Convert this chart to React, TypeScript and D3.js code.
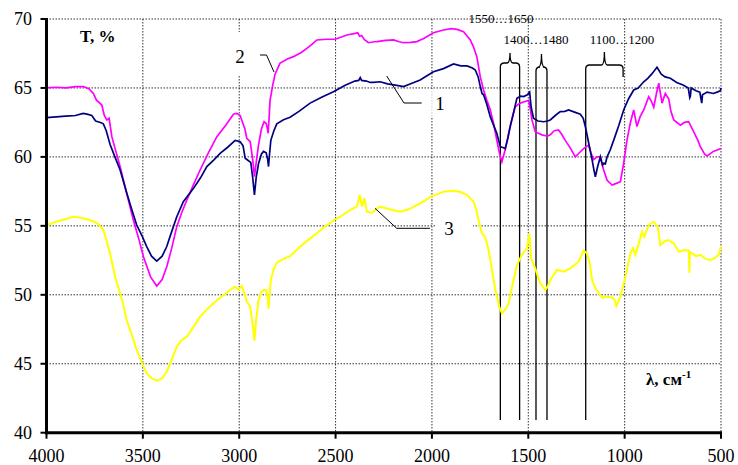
import { useEffect } from "react";
import * as d3 from "d3";

// wavenumber (cm-1), transmittance (%)
const curve1: [number, number][] = [
  [4000, 62.85], [3950, 62.9], [3900, 62.95], [3850, 63.0], [3810, 63.15], [3790, 63.1], [3765, 63.0],
  [3745, 62.6], [3720, 62.5], [3705, 62.4], [3690, 61.9], [3670, 60.9], [3645, 60.0], [3618, 59.05],
  [3584, 57.4], [3560, 56.3], [3532, 55.06], [3505, 54.3], [3480, 53.5], [3455, 52.8], [3428, 52.45],
  [3400, 52.8], [3376, 53.5], [3350, 54.6], [3324, 55.66], [3290, 56.75], [3238, 57.7], [3200, 58.5],
  [3168, 59.3], [3130, 59.8], [3099, 60.26], [3060, 60.7], [3021, 61.2], [2995, 61.1], [2980, 60.8],
  [2969, 59.9], [2950, 59.7], [2940, 59.6], [2930, 58.5], [2921, 57.24], [2912, 58.5], [2900, 59.5],
  [2885, 60.2], [2874, 60.4], [2860, 60.3], [2852, 59.8], [2848, 59.3], [2842, 60.3], [2836, 61.2],
  [2820, 61.9], [2805, 62.4], [2770, 62.7], [2736, 62.87], [2690, 63.3], [2632, 63.9], [2570, 64.35],
  [2511, 64.73], [2450, 65.2], [2400, 65.5], [2380, 65.55], [2372, 65.75], [2365, 65.55], [2340, 65.5],
  [2320, 65.4], [2305, 65.4], [2269, 65.45], [2230, 65.3], [2190, 65.2], [2147, 65.1], [2110, 65.3],
  [2061, 65.58], [2030, 65.85], [1992, 66.18], [1940, 66.4], [1888, 66.74], [1850, 66.6], [1818, 66.6],
  [1790, 66.45], [1775, 66.3], [1760, 65.8], [1749, 65.1], [1740, 64.6], [1732, 64.5], [1715, 63.8],
  [1697, 62.9], [1680, 62.3], [1663, 61.7], [1650, 61.0], [1645, 60.74], [1628, 60.67], [1620, 60.6],
  [1607, 61.3], [1594, 62.2], [1575, 63.3], [1559, 64.25], [1540, 64.4], [1524, 64.37], [1505, 64.5],
  [1493, 64.7], [1485, 63.6], [1473, 62.8], [1450, 62.6], [1420, 62.55], [1400, 62.6], [1386, 62.68],
  [1360, 63.0], [1334, 63.28], [1310, 63.3], [1291, 63.4], [1260, 63.25], [1230, 63.1], [1215, 62.8],
  [1204, 62.2], [1185, 60.9], [1169, 59.8], [1160, 59.1], [1152, 58.56], [1140, 59.3], [1126, 60.0],
  [1115, 59.4], [1109, 59.54], [1100, 59.5], [1091, 60.0], [1075, 60.5], [1057, 61.2], [1030, 62.3],
  [1005, 63.4], [980, 64.2], [953, 64.85], [930, 65.0], [901, 65.45], [880, 65.7], [860, 66.0],
  [832, 66.5], [810, 66.0], [790, 65.8], [763, 65.7], [730, 65.4], [694, 65.2], [670, 65.0],
  [662, 64.3], [659, 64.4], [655, 65.0], [630, 64.8], [610, 64.7], [600, 63.9], [596, 64.5],
  [572, 64.7], [540, 64.6], [520, 64.7], [503, 64.8], [500, 65.0],
];

const curve2: [number, number][] = [
  [4000, 65.0], [3950, 65.05], [3900, 65.0], [3850, 65.1], [3809, 65.1], [3780, 64.95], [3757, 64.6],
  [3740, 64.1], [3731, 64.0], [3713, 63.76], [3700, 63.0], [3687, 62.68], [3675, 62.8], [3661, 61.47],
  [3640, 60.4], [3618, 59.3], [3584, 57.36], [3549, 55.4], [3520, 54.0], [3497, 52.76], [3460, 51.3],
  [3428, 50.64], [3400, 51.1], [3376, 52.04], [3350, 53.4], [3324, 54.94], [3300, 55.9], [3272, 56.87],
  [3240, 57.9], [3203, 59.05], [3160, 60.3], [3116, 61.47], [3070, 62.3], [3030, 63.1], [3013, 63.16],
  [2995, 63.0], [2987, 62.68], [2970, 62.0], [2961, 61.35], [2950, 61.2], [2943, 61.1], [2930, 59.8],
  [2921, 58.56], [2910, 59.8], [2900, 60.86], [2885, 62.0], [2871, 62.55], [2860, 62.43], [2853, 62.0],
  [2850, 61.71], [2845, 62.8], [2840, 64.1], [2826, 65.2], [2814, 66.0], [2788, 66.8], [2750, 67.1],
  [2719, 67.27], [2680, 67.55], [2649, 67.87], [2620, 68.2], [2597, 68.48], [2545, 68.53], [2502, 68.53],
  [2470, 68.7], [2441, 68.84], [2398, 68.96], [2385, 69.0], [2375, 68.75], [2365, 68.8], [2350, 68.5],
  [2329, 68.28], [2300, 68.35], [2286, 68.36], [2240, 68.45], [2199, 68.48], [2170, 68.35], [2147, 68.28],
  [2110, 68.3], [2078, 68.36], [2040, 68.6], [1992, 69.0], [1940, 69.2], [1900, 69.3], [1870, 69.25],
  [1836, 69.08], [1801, 68.48], [1785, 68.0], [1767, 67.27], [1749, 65.8], [1732, 64.85], [1715, 64.1],
  [1697, 63.4], [1680, 62.4], [1663, 61.2], [1650, 60.3], [1637, 59.65], [1620, 60.5], [1594, 62.2],
  [1568, 63.64], [1542, 63.9], [1520, 64.0], [1498, 64.1], [1490, 63.5], [1481, 62.68], [1464, 61.83],
  [1445, 61.7], [1429, 61.6], [1400, 61.5], [1386, 61.6], [1365, 61.9], [1343, 61.95], [1325, 61.6],
  [1308, 61.2], [1280, 60.6], [1256, 60.0], [1235, 60.3], [1213, 60.6], [1187, 60.86], [1175, 60.3],
  [1161, 59.8], [1143, 60.0], [1126, 60.0], [1110, 59.1], [1091, 58.3], [1065, 57.96], [1040, 58.1],
  [1022, 58.2], [1005, 59.54], [988, 61.2], [970, 62.5], [953, 63.4], [936, 62.2], [920, 62.9],
  [901, 63.4], [875, 64.37], [860, 64.0], [849, 63.6], [835, 64.6], [823, 65.34], [806, 63.9],
  [789, 64.6], [771, 64.2], [760, 63.3], [745, 62.68], [711, 62.3], [690, 62.5], [668, 62.55],
  [642, 61.83], [620, 61.2], [607, 60.74], [585, 60.2], [572, 60.07], [540, 60.4], [520, 60.5], [500, 60.6],
];

const curve3: [number, number][] = [
  [4000, 55.05], [3950, 55.3], [3900, 55.5], [3861, 55.66], [3830, 55.6], [3791, 55.48], [3760, 55.35],
  [3731, 55.13], [3705, 54.7], [3690, 54.0], [3670, 53.0], [3644, 51.3], [3618, 50.1], [3600, 49.2],
  [3584, 48.17], [3560, 47.2], [3532, 46.0], [3505, 45.1], [3480, 44.3], [3450, 43.9], [3424, 43.77],
  [3400, 43.95], [3376, 44.42], [3350, 45.3], [3324, 46.24], [3300, 46.7], [3272, 46.96], [3240, 47.6],
  [3203, 48.41], [3160, 49.05], [3116, 49.6], [3070, 50.1], [3030, 50.52], [3021, 50.59], [3004, 50.35],
  [2987, 50.64], [2970, 50.0], [2961, 49.5], [2943, 49.14], [2930, 47.8], [2921, 46.67], [2912, 48.2],
  [2900, 49.6], [2885, 50.2], [2874, 50.35], [2860, 50.35], [2852, 49.8], [2848, 49.0], [2842, 50.0],
  [2836, 51.07], [2820, 51.9], [2805, 52.33], [2770, 52.6], [2736, 52.8], [2684, 53.49], [2640, 54.0],
  [2597, 54.46], [2550, 55.0], [2493, 55.55], [2476, 55.66], [2424, 56.15], [2389, 56.4], [2375, 57.24],
  [2363, 56.4], [2351, 57.0], [2337, 56.03], [2311, 55.95], [2290, 56.2], [2269, 56.4], [2220, 56.2],
  [2164, 56.03], [2120, 56.2], [2078, 56.5], [2040, 56.8], [2009, 57.1], [1970, 57.3], [1940, 57.48],
  [1888, 57.55], [1850, 57.45], [1818, 57.24], [1784, 56.75], [1770, 56.2], [1758, 55.42], [1741, 54.46],
  [1724, 54.2], [1710, 53.5], [1697, 52.52], [1671, 50.35], [1650, 49.1], [1637, 48.66], [1620, 48.9],
  [1602, 49.38], [1590, 50.2], [1576, 51.07], [1559, 52.16], [1533, 52.9], [1507, 53.37], [1495, 54.46],
  [1485, 52.64], [1464, 51.92], [1438, 50.83], [1412, 50.35], [1400, 50.6], [1386, 51.07], [1351, 51.8],
  [1317, 51.68], [1282, 51.92], [1239, 52.4], [1213, 53.2], [1195, 53.0], [1180, 52.2], [1169, 51.07],
  [1152, 50.47], [1117, 49.8], [1090, 49.85], [1065, 49.8], [1050, 49.6], [1043, 49.18], [1022, 49.86],
  [996, 51.3], [970, 53.0], [956, 53.37], [944, 52.9], [925, 53.8], [910, 54.58], [898, 54.2],
  [875, 55.06], [849, 55.3], [828, 54.94], [815, 53.6], [790, 53.9], [771, 53.97], [745, 53.73],
  [719, 53.12], [690, 53.25], [667, 53.2], [664, 51.6], [661, 53.1], [650, 53.0], [630, 52.8],
  [607, 52.9], [580, 52.6], [555, 52.52], [530, 52.7], [512, 52.9], [500, 53.5],
];

const xTicks = [4000, 3500, 3000, 2500, 2000, 1500, 1000, 500];
const yTicks = [40, 45, 50, 55, 60, 65, 70];

// bands: edges in cm-1 and label text
const bands = [
  { hi: 1645, lo: 1545, label: "1550…1650", long: [true, true] },
  { hi: 1460, lo: 1403, label: "1400…1480", long: [true, true] },
  { hi: 1202, lo: 1008, label: "1100…1200", long: [true, false] },
];

const W = 738;
const H = 465;
const serif = "Liberation Serif, DejaVu Serif, serif";

export default function App() {
  useEffect(() => {
    document.body.style.margin = "0";
  }, []);

  const x = d3.scaleLinear().domain([4000, 500]).range([46.5, 721]);
  const y = d3.scaleLinear().domain([40, 70]).range([432.7, 19]);

  const line = d3
    .line<[number, number]>()
    .x((d) => x(d[0]))
    .y((d) => y(d[1]));

  const braceTop = [63, 67, 65];
  const tipTop = [53, 54, 52];
  const bandLabelY = [23, 44, 44];
  const bandLabelX = [501, 536, 622];

  const txt = { fontFamily: serif };

  return (
    <svg width={W} height={H} style={{ display: "block", background: "#fff", fontFamily: serif }}>
      {/* grid */}
      <g stroke="#333" strokeWidth={1} strokeDasharray="1.5,1.5">
        {xTicks.slice(1).map((t) => (
          <line key={"gx" + t} x1={x(t)} x2={x(t)} y1={y(70)} y2={y(40)} />
        ))}
        {yTicks.slice(1).map((t) => (
          <line key={"gy" + t} x1={x(4000)} x2={x(500)} y1={y(t)} y2={y(t)} />
        ))}
      </g>

      {/* label boxes over grid */}
      <rect x={231} y={32} width={19} height={44} fill="#fff" />
      <rect x={431} y={89} width={29} height={29} fill="#fff" opacity={0.75} />
      <rect x={436} y={216} width={37} height={24} fill="#fff" />

      {/* band marker lines and braces */}
      <g stroke="#000" strokeWidth={1.3} fill="none">
        {bands.map((b, i) => {
          const xl = x(b.hi);
          const xr = x(b.lo);
          const xc = (xl + xr) / 2;
          const yh = braceTop[i];
          const yb = 77;
          const r = 4;
          const d = `M${xl},${yb} L${xl},${yh + r} Q${xl},${yh} ${xl + r},${yh} L${xc - 3},${yh} Q${xc},${yh} ${xc},${tipTop[i]} Q${xc},${yh} ${xc + 3},${yh} L${xr - r},${yh} Q${xr},${yh} ${xr},${yh + r} L${xr},${yb}`;
          return (
            <g key={b.label}>
              <path d={d} />
              {b.long[0] && <line x1={xl} x2={xl} y1={yb} y2={420} />}
              {b.long[1] && <line x1={xr} x2={xr} y1={yb} y2={420} />}
            </g>
          );
        })}
      </g>
      {bands.map((b, i) => (
        <text
          key={"bl" + b.label}
          x={bandLabelX[i]}
          y={bandLabelY[i]}
          fontSize={13}
          textAnchor="middle"
          fill="#000"
          style={txt}
        >
          {b.label}
        </text>
      ))}

      {/* curves */}
      <path d={line(curve3) ?? ""} fill="none" stroke="#ffff00" strokeWidth={2} />
      <path d={line(curve2) ?? ""} fill="none" stroke="#ff00ff" strokeWidth={1.7} />
      <path d={line(curve1) ?? ""} fill="none" stroke="#000080" strokeWidth={1.7} />

      {/* leaders */}
      <g stroke="#000" strokeWidth={1} fill="none">
        <polyline points="260,55 266.5,55 274,72" />
        <polyline points="386.7,76 404,103 421.7,103" />
        <polyline points="375,208.3 396.7,228.3 430,228.3" />
      </g>
      <g fontSize={19} fill="#000" textAnchor="middle" dominantBaseline="central" style={txt}>
        <text x={240} y={56}>2</text>
        <text x={440} y={103}>1</text>
        <text x={449} y={228}>3</text>
      </g>

      {/* axes */}
      <g stroke="#000">
        <line x1={x(4000)} x2={x(4000)} y1={y(70) - 1} y2={y(40) + 1.5} strokeWidth={3} />
        <line x1={x(4000) - 1.5} x2={x(500) + 1} y1={y(40)} y2={y(40)} strokeWidth={3} />
        {yTicks.map((t) => (
          <line key={"ty" + t} x1={x(4000) - 6} x2={x(4000)} y1={y(t)} y2={y(t)} strokeWidth={2} />
        ))}
        {xTicks.map((t) => (
          <line key={"tx" + t} x1={x(t)} x2={x(t)} y1={y(40)} y2={y(40) + 6} strokeWidth={2} />
        ))}
      </g>
      <g fontSize={18} fill="#000" style={txt}>
        {yTicks.map((t) => (
          <text key={"ly" + t} x={32} y={y(t)} textAnchor="end" dominantBaseline="central">
            {t}
          </text>
        ))}
        {xTicks.map((t) => (
          <text key={"lx" + t} x={x(t)} y={461.5} textAnchor="middle">
            {t}
          </text>
        ))}
      </g>

      {/* axis titles */}
      <text x={80} y={42} fontSize={17} fontWeight="bold" fill="#000" style={txt}>
        T, %
      </text>
      <text x={646} y={385} fontSize={17} fontWeight="bold" fill="#000" style={txt}>
        λ, см
        <tspan fontSize={11} dy={-7}>
          -1
        </tspan>
      </text>
    </svg>
  );
}
